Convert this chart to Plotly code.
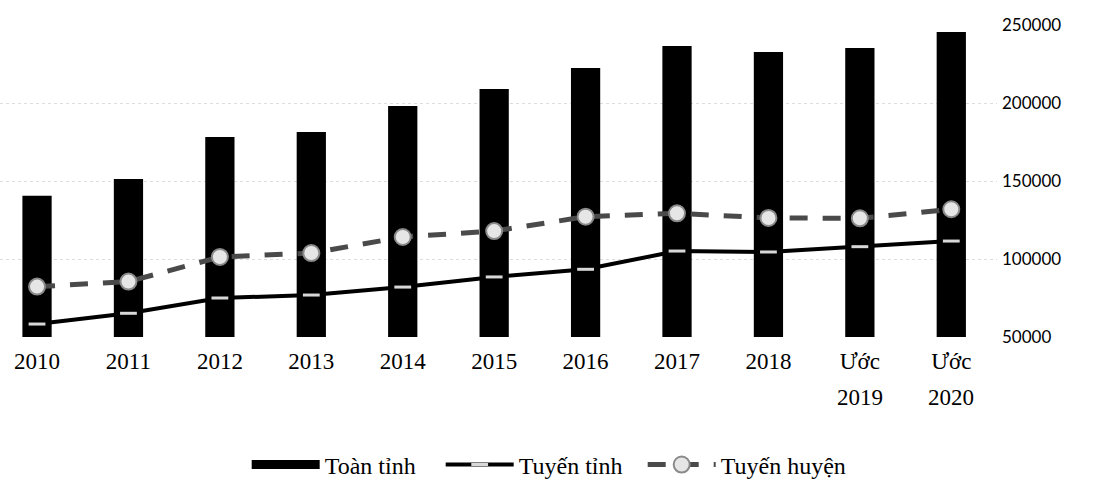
import plotly.graph_objects as go

# Categories and series values
years = ["2010", "2011", "2012", "2013", "2014", "2015", "2016", "2017", "2018", "Ước 2019", "Ước 2020"]
tick_top = ["2010", "2011", "2012", "2013", "2014", "2015", "2016", "2017", "2018", "Ước", "Ước"]
tick_bottom = ["", "", "", "", "", "", "", "", "", "2019", "2020"]

toan_tinh = [140600, 151300, 178200, 181400, 198100, 209000, 222400, 236500, 232700, 235200, 245500]
tuyen_tinh = [58300, 65200, 75000, 76900, 82000, 88500, 93400, 105100, 104500, 107900, 111500]
tuyen_huyen = [82300, 85500, 101300, 103800, 114100, 117900, 127100, 129300, 126300, 126100, 131900]

y_ticks = [50000, 100000, 150000, 200000, 250000]
y_ticktext = ["50000", "100000", "150000", "200000", "250000"]

serif = "Liberation Serif"
base_value = 50000

fig = go.Figure()

fig.add_trace(go.Bar(
    x=years, y=[v - base_value for v in toan_tinh], base=base_value,
    name="Toàn tỉnh", marker=dict(color="black", line=dict(width=0)),
    width=0.32, hoverinfo="skip", showlegend=False,
))
# Legend key for the bars, drawn as a thick black band
fig.add_trace(go.Scatter(
    x=[None], y=[None], name="Toàn tỉnh", mode="lines",
    line=dict(color="black", width=9), legendwidth=111,
))

fig.add_trace(go.Scatter(
    x=years, y=tuyen_tinh, name="Tuyến tỉnh", mode="lines+markers",
    line=dict(color="black", width=4),
    marker=dict(symbol="line-ew", size=12, line=dict(color="#d8d8d8", width=3)),
    legendwidth=119,
))

fig.add_trace(go.Scatter(
    x=years, y=tuyen_huyen, name="Tuyến huyện", mode="lines+markers",
    line=dict(color="#4a4a4a", width=5, dash="18px,15px"),
    marker=dict(symbol="circle", size=16, color="#e6e6e6", line=dict(color="#8a8a8a", width=2)),
))

# Second line of the "Ước" category labels
for cat, txt in zip(years, tick_bottom):
    if txt:
        fig.add_annotation(
            x=cat, xref="x", y=-0.195, yref="paper", text=txt, showarrow=False,
            font=dict(family=serif, size=23, color="black"), yanchor="middle",
        )

fig.update_layout(
    width=1094, height=492,
    margin=dict(l=0, r=97, t=25, b=155),
    paper_bgcolor="white", plot_bgcolor="white",
    showlegend=True,
    legend=dict(
        orientation="h", x=0.502, xanchor="center", xref="container",
        y=0.055, yanchor="middle", yref="container",
        font=dict(family=serif, size=24, color="black"),
        itemwidth=68, traceorder="normal",
    ),
    xaxis=dict(
        type="category", categoryorder="array", categoryarray=years,
        range=[-0.405, 10.5],
        tickvals=years, ticktext=tick_top,
        tickfont=dict(family=serif, size=23, color="black"),
        ticklabelstandoff=8,
        showgrid=False, zeroline=False, showline=False, ticks="",
    ),
    yaxis=dict(
        side="right", range=[50000, 250000], tickvals=y_ticks, ticktext=y_ticktext,
        tickfont=dict(family="Lato", size=17, color="black"),
        ticklabelstandoff=4,
        showgrid=True, gridcolor="#dddddd", griddash="dot", gridwidth=1,
        zeroline=False, showline=False, ticks="",
    ),
    bargap=0.68,
)

fig.write_html("out.html")
